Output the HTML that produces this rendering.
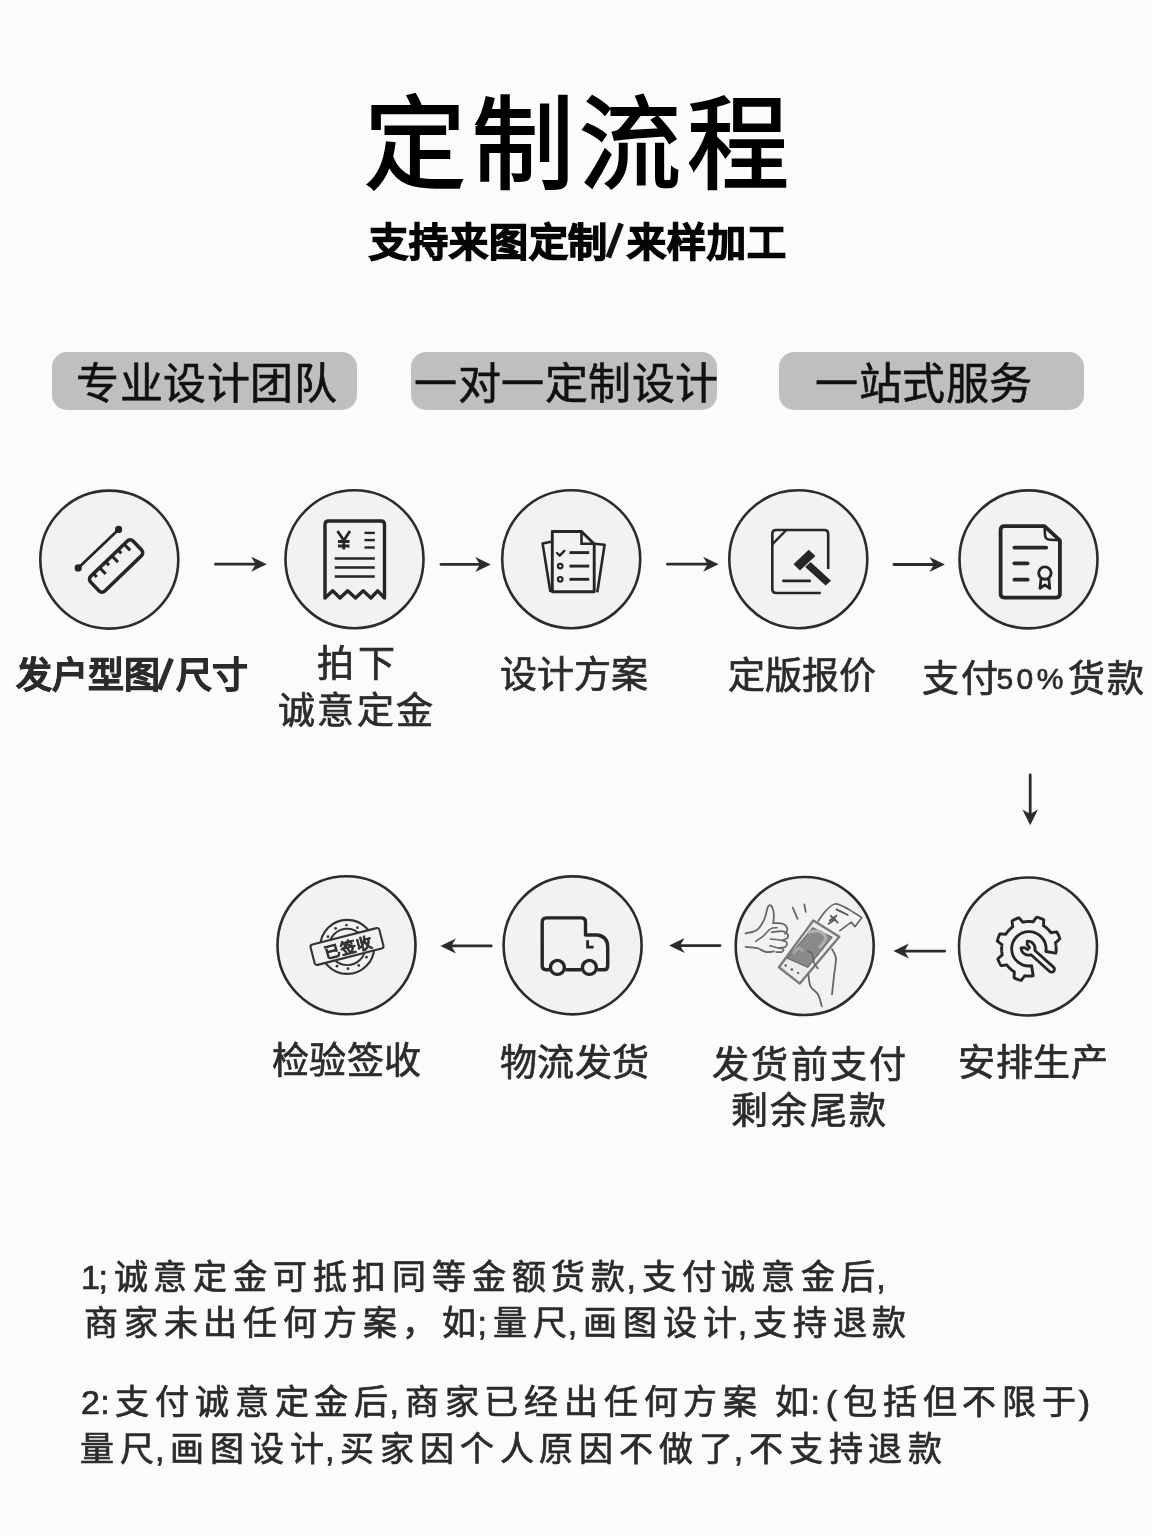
<!DOCTYPE html>
<html lang="zh-CN">
<head>
<meta charset="utf-8">
<style>
html,body{margin:0;padding:0;}
body{width:1152px;height:1536px;position:relative;overflow:hidden;background:#fbfbfb;font-family:"Liberation Sans",sans-serif;color:#2a2a2a;}
.t{position:absolute;white-space:nowrap;line-height:1;will-change:transform;}
#title{left:364px;top:95px;font-size:102px;letter-spacing:5.5px;color:#000;-webkit-text-stroke:2px #000;}
#sub{left:369px;top:223px;font-size:39px;font-weight:bold;color:#050505;letter-spacing:0.9px;-webkit-text-stroke:1.4px #050505;}
.pill{position:absolute;top:352px;height:58px;background:#bfbfbf;border-radius:15px;}
.pt{font-size:43px;color:#111;letter-spacing:0.5px;-webkit-text-stroke:0.6px #111;}
.lb{font-size:37px;letter-spacing:0px;color:#2b2b2b;-webkit-text-stroke:0.7px #2b2b2b;}
.ft{font-size:34px;letter-spacing:5.8px;color:#2b2b2b;-webkit-text-stroke:0.7px #2b2b2b;}
#art{position:absolute;left:0;top:0;}
.p{font-style:normal;margin-left:-4.5px;}
.sl{display:inline-block;width:19px;}
.sl2{display:inline-block;width:15.5px;}
</style>
</head>
<body>
<div class="t" id="title">定制流程</div>
<div class="t" id="sub">支持来图定制<span class="sl"></span>来样加工</div>

<div class="pill" style="left:52px;width:305px"></div>
<div class="pill" style="left:411px;width:306px"></div>
<div class="pill" style="left:779px;width:305px"></div>
<div class="t pt" style="left:76px;top:363px">专业设计团队</div>
<div class="t pt" style="left:414px;top:363px">一对一定制设计</div>
<div class="t pt" style="left:815px;top:363px">一站式服务</div>

<svg width="1152" height="1536" viewBox="0 0 1152 1536" id="art">
<circle cx="109.3" cy="559.6" r="69" fill="#f2f2f4" stroke="#2c2c2c" stroke-width="2.6"/>
<circle cx="354.5" cy="559.2" r="69" fill="#f2f2f4" stroke="#2c2c2c" stroke-width="2.6"/>
<circle cx="571.2" cy="559.2" r="69" fill="#f2f2f4" stroke="#2c2c2c" stroke-width="2.6"/>
<circle cx="798.3" cy="559.2" r="69" fill="#f2f2f4" stroke="#2c2c2c" stroke-width="2.6"/>
<circle cx="1028.5" cy="559.4" r="69" fill="#f2f2f4" stroke="#2c2c2c" stroke-width="2.6"/>
<circle cx="346.5" cy="945.3" r="69" fill="#f2f2f4" stroke="#2c2c2c" stroke-width="2.6"/>
<circle cx="572.6" cy="945.4" r="69" fill="#f2f2f4" stroke="#2c2c2c" stroke-width="2.6"/>
<circle cx="804.7" cy="946.0" r="69" fill="#f2f2f4" stroke="#2c2c2c" stroke-width="2.6"/>
<circle cx="1028.0" cy="946.5" r="69" fill="#f2f2f4" stroke="#2c2c2c" stroke-width="2.6"/>
<line x1="215.5" y1="564.2" x2="258.7" y2="564.2" stroke="#2c2c2c" stroke-width="2.8" stroke-linecap="round"/>
<path d="M266.7,564.2 L251.2,556.7 L255.7,564.2 L251.2,571.7 Z" fill="#2c2c2c"/>
<line x1="441" y1="564.4" x2="482.8" y2="564.4" stroke="#2c2c2c" stroke-width="2.8" stroke-linecap="round"/>
<path d="M490.8,564.4 L475.3,556.9 L479.8,564.4 L475.3,571.9 Z" fill="#2c2c2c"/>
<line x1="667.5" y1="564.2" x2="710.6" y2="564.2" stroke="#2c2c2c" stroke-width="2.8" stroke-linecap="round"/>
<path d="M718.6,564.2 L703.1,556.7 L707.6,564.2 L703.1,571.7 Z" fill="#2c2c2c"/>
<line x1="894" y1="564.5" x2="936.9" y2="564.5" stroke="#2c2c2c" stroke-width="2.8" stroke-linecap="round"/>
<path d="M944.9,564.5 L929.4,557.0 L933.9,564.5 L929.4,572.0 Z" fill="#2c2c2c"/>
<line x1="448.4" y1="945.9" x2="491.2" y2="945.9" stroke="#2c2c2c" stroke-width="2.8" stroke-linecap="round"/>
<path d="M440.4,945.9 L455.9,938.4 L451.4,945.9 L455.9,953.4 Z" fill="#2c2c2c"/>
<line x1="677.1" y1="945.6" x2="720" y2="945.6" stroke="#2c2c2c" stroke-width="2.8" stroke-linecap="round"/>
<path d="M669.1,945.6 L684.6,938.1 L680.1,945.6 L684.6,953.1 Z" fill="#2c2c2c"/>
<line x1="901.4" y1="951.1" x2="944.7" y2="951.1" stroke="#2c2c2c" stroke-width="2.8" stroke-linecap="round"/>
<path d="M893.4,951.1 L908.9,943.6 L904.4,951.1 L908.9,958.6 Z" fill="#2c2c2c"/>
<line x1="1030.2" y1="775" x2="1030.2" y2="817" stroke="#2c2c2c" stroke-width="2.8" stroke-linecap="round"/>
<path d="M1030.2,825.2 L1022.4000000000001,809.5 L1030.2,814 L1038.0,809.5 Z" fill="#2c2c2c"/>
<g transform="translate(116.1,566.0) rotate(-44)"><rect x="-29.5" y="-10.2" width="59" height="20.4" rx="4" fill="none" stroke="#262626" stroke-width="3.5"/><line x1="-21.5" y1="-10" x2="-21.5" y2="-5.5" stroke="#262626" stroke-width="3"/><line x1="-13" y1="-10" x2="-13" y2="-1.5" stroke="#262626" stroke-width="3"/><line x1="-4.5" y1="-10" x2="-4.5" y2="-5.5" stroke="#262626" stroke-width="3"/><line x1="4" y1="-10" x2="4" y2="-1.5" stroke="#262626" stroke-width="3"/><line x1="12.5" y1="-10" x2="12.5" y2="-5.5" stroke="#262626" stroke-width="3"/><line x1="21" y1="-10" x2="21" y2="-1.5" stroke="#262626" stroke-width="3"/></g>
<line x1="78.2" y1="567.9" x2="118.6" y2="529.4" stroke="#262626" stroke-width="2.7"/>
<circle cx="78.2" cy="567.9" r="3.6" fill="#262626"/><circle cx="118.6" cy="529.4" r="3.6" fill="#262626"/>
<path d="M325,598 L325,524.5 Q325,521 328.5,521 L381,521 Q384.5,521 384.5,524.5 L384.5,598 L377.7,590.8 L370.9,598 L363.2,590.8 L355.5,598 L347.7,590.8 L340,598 L332.7,590.8 L325,598 Z" fill="none" stroke="#262626" stroke-width="3.4" stroke-linejoin="round"/>
<path d="M337.5,531 L343.8,540.5 L350,531 M343.8,540.5 L343.8,549.5 M338,541.5 L349.5,541.5 M338,546 L349.5,546" fill="none" stroke="#262626" stroke-width="2.8"/>
<line x1="364.5" y1="532.9" x2="374.8" y2="532.9" stroke="#262626" stroke-width="2.4"/>
<line x1="364.5" y1="540.1" x2="374.8" y2="540.1" stroke="#262626" stroke-width="2.4"/>
<line x1="364.5" y1="547.5" x2="374.8" y2="547.5" stroke="#262626" stroke-width="2.4"/>
<line x1="334.7" y1="558.5" x2="374.8" y2="558.5" stroke="#262626" stroke-width="2.4"/>
<line x1="334.7" y1="567.5" x2="374.8" y2="567.5" stroke="#262626" stroke-width="2.4"/>
<line x1="334.7" y1="576.5" x2="374.8" y2="576.5" stroke="#262626" stroke-width="2.4"/>
<path d="M552.3,531.5 L581.5,531.5 L594.2,544 L594.2,591.8 L552.3,591.8 Z" fill="none" stroke="#262626" stroke-width="2.9" stroke-linejoin="round"/>
<path d="M581.5,531.5 L581.5,543.7 L594.2,543.7" fill="none" stroke="#262626" stroke-width="2.6"/>
<path d="M552.3,541.6 L542.6,543.6 L550.4,592" fill="none" stroke="#262626" stroke-width="2.6" stroke-linejoin="round"/>
<path d="M594.2,543.7 L604.6,544.8 L597.3,592.4" fill="none" stroke="#262626" stroke-width="2.6" stroke-linejoin="round"/>
<path d="M557,553 L559.7,555.6 L564.4,550.9" fill="none" stroke="#262626" stroke-width="2.4" stroke-linecap="round" stroke-linejoin="round"/>
<line x1="569.5" y1="552.6" x2="589.2" y2="552.6" stroke="#262626" stroke-width="2.9"/>
<line x1="569.5" y1="566.1" x2="589.2" y2="566.1" stroke="#262626" stroke-width="2.9"/>
<line x1="569.5" y1="579.3" x2="589.2" y2="579.3" stroke="#262626" stroke-width="2.9"/>
<circle cx="560.2" cy="566.1" r="2.3" fill="none" stroke="#262626" stroke-width="2.2"/>
<circle cx="560.2" cy="579.3" r="2.3" fill="none" stroke="#262626" stroke-width="2.2"/>
<path d="M828.2,569 L828.2,534 Q828.2,530 824.2,530 L776.3,530 Q772.3,530 772.3,534 L772.3,589 Q772.3,593 776.3,593 L820.8,593" fill="none" stroke="#262626" stroke-width="2.6"/>
<line x1="772.5" y1="544.2" x2="786.4" y2="530" stroke="#262626" stroke-width="2.4"/>
<line x1="783.3" y1="580.9" x2="809.8" y2="580.9" stroke="#262626" stroke-width="2.6" stroke-linecap="round"/>
<polygon points="793.5,564.3 808.7,549.8 815.4,556.1 800,570.6" fill="#262626"/>
<polygon points="805.2,566.9 810.6,562.0 831,580.8 825.6,585.6" fill="#262626"/>
<path d="M1044.5,526.2 L1004.4,526.2 Q1000.6,526.2 1000.6,530 L1000.6,593.8 Q1000.6,597.6 1004.4,597.6 L1056.1,597.6 Q1059.9,597.6 1059.9,593.8 L1059.9,540.4 Z" fill="none" stroke="#262626" stroke-width="3.8" stroke-linejoin="round"/>
<path d="M1044.6,527 L1045,535 Q1045.4,539.6 1050,539.8 L1059.5,540.3" fill="none" stroke="#262626" stroke-width="2.6"/>
<line x1="1014.4" y1="547.6" x2="1046.2" y2="547.6" stroke="#262626" stroke-width="3.8" stroke-linecap="round"/>
<line x1="1014.4" y1="563.3" x2="1027.6" y2="563.3" stroke="#262626" stroke-width="3.8" stroke-linecap="round"/>
<line x1="1014.4" y1="579.7" x2="1027.6" y2="579.7" stroke="#262626" stroke-width="3.8" stroke-linecap="round"/>
<circle cx="1044.9" cy="573.1" r="6.2" fill="none" stroke="#262626" stroke-width="2.9"/>
<path d="M1041,578.6 L1040,588.4 L1044.9,584.9 L1049.8,588.4 L1048.8,578.6" fill="none" stroke="#262626" stroke-width="2.8" stroke-linejoin="round"/>
<circle cx="347.2" cy="946.9" r="27" fill="none" stroke="#333" stroke-width="2.1"/>
<circle cx="335.65" cy="928.41" r="1.35" fill="#333"/>
<circle cx="346.44" cy="925.11" r="1.35" fill="#333"/>
<circle cx="357.43" cy="927.65" r="1.35" fill="#333"/>
<circle cx="365.69" cy="935.35" r="1.35" fill="#333"/>
<circle cx="368.99" cy="946.14" r="1.35" fill="#333"/>
<circle cx="366.45" cy="957.13" r="1.35" fill="#333"/>
<circle cx="358.75" cy="965.39" r="1.35" fill="#333"/>
<circle cx="347.96" cy="968.69" r="1.35" fill="#333"/>
<circle cx="336.97" cy="966.15" r="1.35" fill="#333"/>
<circle cx="328.71" cy="958.45" r="1.35" fill="#333"/>
<circle cx="325.41" cy="947.66" r="1.35" fill="#333"/>
<circle cx="327.95" cy="936.67" r="1.35" fill="#333"/>
<circle cx="347.2" cy="946.9" r="18.2" fill="none" stroke="#333" stroke-width="1.9"/>
<g transform="translate(347,946.5) rotate(-14.4)"><rect x="-35.5" y="-10.5" width="71" height="21" rx="2.5" fill="#f2f2f4" stroke="#333" stroke-width="2.1"/><text x="1.8" y="6.8" text-anchor="middle" font-size="15.5" font-weight="bold" fill="#333" stroke="#333" stroke-width="0.5" letter-spacing="0.6">已签收</text></g>
<path d="M549.5,969.7 L546.2,969.7 Q542.2,969.7 542.2,965.7 L542.2,922.4 Q542.2,917.9 546.7,917.9 L581.3,917.9 Q585.5,917.9 585.5,922.1 L585.5,935 L597.5,935 Q607.7,936.5 607.7,947 L607.7,965.9 Q607.7,969.7 603.9,969.7 L597.5,969.7 M565.5,969.7 L581.3,969.7" fill="none" stroke="#262626" stroke-width="3.4" stroke-linejoin="round"/>
<circle cx="557.4" cy="967.4" r="7.0" fill="#f2f2f4" stroke="#262626" stroke-width="3.4"/>
<circle cx="589.4" cy="967.4" r="7.0" fill="#f2f2f4" stroke="#262626" stroke-width="3.4"/>
<path d="M587.6,940.3 L587.6,947.2 L593.6,947.2" fill="none" stroke="#262626" stroke-width="2.8"/>
<path d="M1031.59,965.79 L1033.17,975.76 L1032.94,975.80 L1032.70,975.83 L1032.46,975.87 L1032.23,975.90 L1031.99,975.92 L1031.75,975.95 L1031.52,975.97 L1031.28,976.00 L1031.04,976.02 L1030.80,976.03 L1030.57,976.05 L1030.33,976.06 L1030.09,976.07 L1029.85,976.08 L1029.61,976.09 L1029.38,976.10 L1029.14,976.10 L1028.90,976.10 L1028.66,976.10 L1028.42,976.10 L1028.19,976.09 L1027.95,976.08 L1027.71,976.07 L1027.47,976.06 L1027.23,976.05 L1027.00,976.03 L1026.76,976.02 L1026.52,976.00 L1026.28,975.97 L1026.05,975.95 L1025.81,975.92 L1025.57,975.90 L1025.34,975.87 L1025.10,975.83 L1024.86,975.80 L1024.63,975.76 L1024.31,976.25 L1023.98,976.73 L1023.64,977.21 L1023.29,977.68 L1022.93,978.15 L1022.56,978.61 L1022.19,979.07 L1021.81,979.53 L1021.41,979.98 L1021.01,980.43 L1020.74,980.36 L1020.46,980.29 L1020.19,980.21 L1019.91,980.14 L1019.64,980.06 L1019.37,979.98 L1019.10,979.89 L1018.83,979.80 L1018.56,979.72 L1018.29,979.62 L1018.02,979.53 L1017.75,979.43 L1017.48,979.34 L1017.22,979.23 L1016.95,979.13 L1016.69,979.03 L1016.42,978.92 L1016.16,978.81 L1015.90,978.70 L1015.64,978.58 L1015.38,978.46 L1015.12,978.35 L1014.87,978.22 L1014.61,978.10 L1014.35,977.97 L1014.10,977.85 L1014.09,977.25 L1014.09,976.65 L1014.10,976.05 L1014.12,975.46 L1014.15,974.87 L1014.19,974.28 L1014.24,973.69 L1014.29,973.11 L1014.36,972.53 L1014.43,971.95 L1014.23,971.82 L1014.03,971.70 L1013.83,971.57 L1013.63,971.43 L1013.44,971.30 L1013.24,971.16 L1013.05,971.03 L1012.85,970.89 L1012.66,970.75 L1012.47,970.60 L1012.28,970.46 L1012.09,970.31 L1011.91,970.17 L1011.72,970.02 L1011.54,969.87 L1011.35,969.71 L1011.17,969.56 L1010.99,969.40 L1010.81,969.25 L1010.63,969.09 L1010.46,968.93 L1010.28,968.77 L1010.11,968.60 L1009.94,968.44 L1009.77,968.27 L1009.60,968.10 L1009.43,967.93 L1009.26,967.76 L1009.10,967.59 L1008.93,967.42 L1008.77,967.24 L1008.61,967.07 L1008.45,966.89 L1008.30,966.71 L1008.14,966.53 L1007.99,966.35 L1007.83,966.16 L1007.68,965.98 L1007.53,965.79 L1007.39,965.61 L1007.24,965.42 L1007.10,965.23 L1006.95,965.04 L1006.81,964.85 L1006.24,964.96 L1005.67,965.07 L1005.09,965.16 L1004.51,965.25 L1003.93,965.33 L1003.34,965.40 L1002.75,965.46 L1002.15,965.51 L1001.56,965.56 L1000.96,965.59 L1000.81,965.35 L1000.67,965.10 L1000.53,964.85 L1000.39,964.60 L1000.25,964.36 L1000.12,964.10 L999.98,963.85 L999.85,963.60 L999.73,963.35 L999.60,963.09 L999.48,962.83 L999.35,962.58 L999.24,962.32 L999.12,962.06 L999.00,961.80 L998.89,961.54 L998.78,961.28 L998.67,961.01 L998.57,960.75 L998.47,960.48 L998.36,960.22 L998.27,959.95 L998.17,959.68 L998.08,959.41 L997.98,959.14 L997.90,958.87 L998.31,958.44 L998.74,958.02 L999.17,957.61 L999.60,957.20 L1000.04,956.80 L1000.48,956.41 L1000.93,956.03 L1001.38,955.66 L1001.84,955.30 L1002.30,954.94 L1002.25,954.71 L1002.20,954.48 L1002.15,954.24 L1002.10,954.01 L1002.06,953.78 L1002.01,953.54 L1001.97,953.31 L1001.94,953.07 L1001.90,952.84 L1001.87,952.60 L1001.83,952.36 L1001.80,952.13 L1001.78,951.89 L1001.75,951.65 L1001.73,951.42 L1001.70,951.18 L1001.68,950.94 L1001.67,950.70 L1001.65,950.47 L1001.64,950.23 L1001.63,949.99 L1001.62,949.75 L1001.61,949.51 L1001.60,949.28 L1001.60,949.04 L1001.60,948.80 L1001.60,948.56 L1001.60,948.32 L1001.61,948.09 L1001.62,947.85 L1001.63,947.61 L1001.64,947.37 L1001.65,947.13 L1001.67,946.90 L1001.68,946.66 L1001.70,946.42 L1001.73,946.18 L1001.75,945.95 L1001.78,945.71 L1001.80,945.47 L1001.83,945.24 L1001.87,945.00 L1001.90,944.76 L1001.94,944.53 L1001.45,944.21 L1000.97,943.88 L1000.49,943.54 L1000.02,943.19 L999.55,942.83 L999.09,942.46 L998.63,942.09 L998.17,941.71 L997.72,941.31 L997.27,940.91 L997.34,940.64 L997.41,940.36 L997.49,940.09 L997.56,939.81 L997.64,939.54 L997.72,939.27 L997.81,939.00 L997.90,938.73 L997.98,938.46 L998.08,938.19 L998.17,937.92 L998.27,937.65 L998.36,937.38 L998.47,937.12 L998.57,936.85 L998.67,936.59 L998.78,936.32 L998.89,936.06 L999.00,935.80 L999.12,935.54 L999.24,935.28 L999.35,935.02 L999.48,934.77 L999.60,934.51 L999.73,934.25 L999.85,934.00 L1000.45,933.99 L1001.05,933.99 L1001.65,934.00 L1002.24,934.02 L1002.83,934.05 L1003.42,934.09 L1004.01,934.14 L1004.59,934.19 L1005.17,934.26 L1005.75,934.33 L1005.88,934.13 L1006.00,933.93 L1006.13,933.73 L1006.27,933.53 L1006.40,933.34 L1006.54,933.14 L1006.67,932.95 L1006.81,932.75 L1006.95,932.56 L1007.10,932.37 L1007.24,932.18 L1007.39,931.99 L1007.53,931.81 L1007.68,931.62 L1007.83,931.44 L1007.99,931.25 L1008.14,931.07 L1008.30,930.89 L1008.45,930.71 L1008.61,930.53 L1008.77,930.36 L1008.93,930.18 L1009.10,930.01 L1009.26,929.84 L1009.43,929.67 L1009.60,929.50 L1009.77,929.33 L1009.94,929.16 L1010.11,929.00 L1010.28,928.83 L1010.46,928.67 L1010.63,928.51 L1010.81,928.35 L1010.99,928.20 L1011.17,928.04 L1011.35,927.89 L1011.54,927.73 L1011.72,927.58 L1011.91,927.43 L1012.09,927.29 L1012.28,927.14 L1012.47,927.00 L1012.66,926.85 L1012.85,926.71 L1012.74,926.14 L1012.63,925.57 L1012.54,924.99 L1012.45,924.41 L1012.37,923.83 L1012.30,923.24 L1012.24,922.65 L1012.19,922.05 L1012.14,921.46 L1012.11,920.86 L1012.35,920.71 L1012.60,920.57 L1012.85,920.43 L1013.10,920.29 L1013.34,920.15 L1013.60,920.02 L1013.85,919.88 L1014.10,919.75 L1014.35,919.63 L1014.61,919.50 L1014.87,919.38 L1015.12,919.25 L1015.38,919.14 L1015.64,919.02 L1015.90,918.90 L1016.16,918.79 L1016.42,918.68 L1016.69,918.57 L1016.95,918.47 L1017.22,918.37 L1017.48,918.26 L1017.75,918.17 L1018.02,918.07 L1018.29,917.98 L1018.56,917.88 L1018.83,917.80 L1019.26,918.21 L1019.68,918.64 L1020.09,919.07 L1020.50,919.50 L1020.90,919.94 L1021.29,920.38 L1021.67,920.83 L1022.04,921.28 L1022.40,921.74 L1022.76,922.20 L1022.99,922.15 L1023.22,922.10 L1023.46,922.05 L1023.69,922.00 L1023.92,921.96 L1024.16,921.91 L1024.39,921.87 L1024.63,921.84 L1024.86,921.80 L1025.10,921.77 L1025.34,921.73 L1025.57,921.70 L1025.81,921.68 L1026.05,921.65 L1026.28,921.63 L1026.52,921.60 L1026.76,921.58 L1027.00,921.57 L1027.23,921.55 L1027.47,921.54 L1027.71,921.53 L1027.95,921.52 L1028.19,921.51 L1028.42,921.50 L1028.66,921.50 L1028.90,921.50 L1029.14,921.50 L1029.38,921.50 L1029.61,921.51 L1029.85,921.52 L1030.09,921.53 L1030.33,921.54 L1030.57,921.55 L1030.80,921.57 L1031.04,921.58 L1031.28,921.60 L1031.52,921.63 L1031.75,921.65 L1031.99,921.68 L1032.23,921.70 L1032.46,921.73 L1032.70,921.77 L1032.94,921.80 L1033.17,921.84 L1033.49,921.35 L1033.82,920.87 L1034.16,920.39 L1034.51,919.92 L1034.87,919.45 L1035.24,918.99 L1035.61,918.53 L1035.99,918.07 L1036.39,917.62 L1036.79,917.17 L1037.06,917.24 L1037.34,917.31 L1037.61,917.39 L1037.89,917.46 L1038.16,917.54 L1038.43,917.62 L1038.70,917.71 L1038.97,917.80 L1039.24,917.88 L1039.51,917.98 L1039.78,918.07 L1040.05,918.17 L1040.32,918.26 L1040.58,918.37 L1040.85,918.47 L1041.11,918.57 L1041.38,918.68 L1041.64,918.79 L1041.90,918.90 L1042.16,919.02 L1042.42,919.14 L1042.68,919.25 L1042.93,919.38 L1043.19,919.50 L1043.45,919.63 L1043.70,919.75 L1043.71,920.35 L1043.71,920.95 L1043.70,921.55 L1043.68,922.14 L1043.65,922.73 L1043.61,923.32 L1043.56,923.91 L1043.51,924.49 L1043.44,925.07 L1043.37,925.65 L1043.57,925.78 L1043.77,925.90 L1043.97,926.03 L1044.17,926.17 L1044.36,926.30 L1044.56,926.44 L1044.75,926.57 L1044.95,926.71 L1045.14,926.85 L1045.33,927.00 L1045.52,927.14 L1045.71,927.29 L1045.89,927.43 L1046.08,927.58 L1046.26,927.73 L1046.45,927.89 L1046.63,928.04 L1046.81,928.20 L1046.99,928.35 L1047.17,928.51 L1047.34,928.67 L1047.52,928.83 L1047.69,929.00 L1047.86,929.16 L1048.03,929.33 L1048.20,929.50 L1048.37,929.67 L1048.54,929.84 L1048.70,930.01 L1048.87,930.18 L1049.03,930.36 L1049.19,930.53 L1049.35,930.71 L1049.50,930.89 L1049.66,931.07 L1049.81,931.25 L1049.97,931.44 L1050.12,931.62 L1050.27,931.81 L1050.41,931.99 L1050.56,932.18 L1050.70,932.37 L1050.85,932.56 L1050.99,932.75 L1051.56,932.64 L1052.13,932.53 L1052.71,932.44 L1053.29,932.35 L1053.87,932.27 L1054.46,932.20 L1055.05,932.14 L1055.65,932.09 L1056.24,932.04 L1056.84,932.01 L1056.99,932.25 L1057.13,932.50 L1057.27,932.75 L1057.41,933.00 L1057.55,933.24 L1057.68,933.50 L1057.82,933.75 L1057.95,934.00 L1058.07,934.25 L1058.20,934.51 L1058.32,934.77 L1058.45,935.02 L1058.56,935.28 L1058.68,935.54 L1058.80,935.80 L1058.91,936.06 L1059.02,936.32 L1059.13,936.59 L1059.23,936.85 L1059.33,937.12 L1059.44,937.38 L1059.53,937.65 L1059.63,937.92 L1059.72,938.19 L1059.82,938.46 L1059.90,938.73 L1059.49,939.16 L1059.06,939.58 L1058.63,939.99 L1058.20,940.40 L1057.76,940.80 L1057.32,941.19 L1056.87,941.57 L1056.42,941.94 L1055.96,942.30 L1055.50,942.66 L1055.55,942.89 L1055.60,943.12 L1055.65,943.36 L1055.70,943.59 L1055.74,943.82 L1055.79,944.06 L1055.83,944.29 L1055.86,944.53 L1055.90,944.76 L1055.93,945.00 L1055.97,945.24 L1056.00,945.47 L1056.02,945.71 L1056.05,945.95 L1056.07,946.18 L1056.10,946.42 L1056.12,946.66 L1056.13,946.90 L1056.15,947.13 L1056.16,947.37 L1056.17,947.61 L1056.18,947.85 L1056.19,948.09 L1056.20,948.32 L1056.20,948.56 L1056.20,948.80 L1056.20,949.04 L1056.20,949.28 L1056.19,949.51 L1056.18,949.75 L1056.17,949.99 L1056.16,950.23 L1056.15,950.47 L1056.13,950.70 L1056.12,950.94 L1056.10,951.18 L1056.07,951.42 L1056.05,951.65 L1056.02,951.89 L1056.00,952.13 L1055.97,952.36 L1055.93,952.60 L1055.90,952.84 L1055.86,953.07 L1045.89,951.49 A17.2,17.2 0 1 0 1031.59,965.79 Z" fill="none" stroke="#262626" stroke-width="2.9" stroke-linejoin="round"/>
<g transform="translate(1028.9,948.9) rotate(42)"><path d="M5.5,-2.9 L30.5,-2.9 A2.9,2.9 0 0 1 30.5,2.9 L5.5,2.9 A7.6,7.6 0 0 1 -6.5,4.6 L-4,2 L-0.5,1.5 L-0.5,-1.5 L-4,-2 L-6.5,-4.6 A7.6,7.6 0 0 1 5.5,-2.9 Z" fill="none" stroke="#262626" stroke-width="2.8" stroke-linejoin="round"/></g>
<path d="M813.4,920.4 L839.3,936.8 L799.8,983.6 L778.9,967.2 Z" fill="#ececee" stroke="#7a7a7a" stroke-width="2.4" stroke-linejoin="round"/>
<path d="M812.8,927.7 L832.0,937.3 L807.7,967.2 L787.4,958.2 Z" fill="#8a8a8a" stroke="#6a6a6a" stroke-width="1.2"/>
<path d="M807.7,932.2 C809.6,932.1 816.0,930.2 819.0,931.1 C822.0,932.1 825.8,935.1 825.8,937.9 C825.8,940.7 820.1,946.4 819.0,948.0" fill="none" stroke="#b0b0b0" stroke-width="3"/>
<path d="M793.0,953.7 C794.0,952.8 797.0,948.4 798.7,948.0 C800.4,947.7 802.5,950.9 803.2,951.4" fill="none" stroke="#a8a8a8" stroke-width="3"/>
<g fill="#555"><circle cx="785.7" cy="965.5" r="1.2"/><circle cx="791.9" cy="969.5" r="1.2"/><circle cx="798.1" cy="972.9" r="1.1"/></g>
<path d="M817.9,921.5 C819.2,919.7 823.0,913.7 825.8,910.8 C828.6,907.9 831.6,904.6 834.8,904.0 C838.0,903.5 842.0,906.1 845.0,907.4 C848.0,908.7 850.0,910.2 852.9,911.9 C855.7,913.6 860.4,916.6 861.9,917.6 L855.1,926.6 L851.2,922.1 L839.3,931.1" fill="#f4f4f6" stroke="#666" stroke-width="1.7" stroke-linejoin="round"/>
<path d="M835.9,909.1 L848.4,915.3 M830.3,915.3 L838.2,923.2 M829.2,921.0 L837.1,915.3 M828.0,924.3 L835.9,918.7" fill="none" stroke="#555" stroke-width="1.8"/>
<path d="M792.8,907.6 L797.6,918.9 M804.3,904.3 L805.7,911.9" fill="none" stroke="#666" stroke-width="1.8" stroke-linecap="round"/>
<path d="M745.6,933.4 C747.5,932.8 753.8,932.3 756.9,930.0 C760.0,927.6 762.5,923.0 764.3,919.3 C766.1,915.5 766.7,909.8 767.7,907.4 C768.6,905.1 769.1,905.0 769.9,905.2 C770.8,905.3 772.1,906.9 772.7,908.5 C773.4,910.2 773.8,912.9 773.9,915.3 C774.0,917.8 773.4,921.9 773.3,923.2" fill="none" stroke="#666" stroke-width="1.8" stroke-linecap="round"/>
<path d="M773.3,923.2 C774.9,923.3 780.5,922.8 782.9,923.8 C785.2,924.7 787.0,927.2 787.4,928.9 C787.8,930.6 785.5,933.1 785.1,933.9 M771.6,932.2 C773.3,932.1 779.1,930.8 781.8,931.1 C784.4,931.4 786.5,932.8 787.4,933.9 C788.3,935.1 788.2,936.9 787.4,937.9 C786.7,938.9 783.6,939.8 782.9,940.1 M770.5,939.0 C772.2,939.2 777.9,939.6 780.6,940.1 C783.4,940.7 786.1,941.3 786.8,942.4 C787.6,943.5 786.6,946.0 785.1,946.9 C783.7,947.9 779.5,947.9 778.4,948.0 M769.9,945.8 C771.3,946.2 776.1,947.5 778.4,948.0 C780.6,948.6 782.9,948.5 783.5,949.2 C784.0,949.8 783.0,951.5 781.8,952.0 C780.5,952.5 777.1,952.0 776.1,952.0" fill="none" stroke="#666" stroke-width="1.7" stroke-linecap="round"/>
<path d="M755.8,941.3 C757.1,940.3 761.3,937.7 763.7,935.6 C766.1,933.6 768.2,930.2 770.5,928.9 C772.7,927.5 776.1,927.9 777.2,927.7" fill="none" stroke="#666" stroke-width="1.6" stroke-linecap="round"/>
<path d="M745.6,946.9 C747.5,947.1 753.5,947.2 756.9,948.0 C760.3,948.9 763.1,951.4 766.0,952.0 C768.8,952.6 772.5,951.5 773.9,951.4" fill="none" stroke="#666" stroke-width="1.8" stroke-linecap="round"/>
<path d="M807.7,951.4 C808.5,951.8 811.2,951.8 812.2,953.7 C813.3,955.6 813.0,960.3 813.9,962.7 C814.9,965.2 817.2,967.4 817.9,968.4" fill="none" stroke="#666" stroke-width="1.7" stroke-linecap="round"/>
<path d="M808.3,974.0 C808.7,976.1 808.9,983.0 810.5,986.4 C812.1,989.8 816.0,991.0 817.9,994.3 C819.8,997.6 821.2,1004.2 821.8,1006.2" fill="none" stroke="#666" stroke-width="1.8" stroke-linecap="round"/>
<path d="M832.0,949.2 C832.6,950.7 835.6,954.1 835.9,958.2 C836.3,962.3 834.9,968.0 834.2,974.0 C833.6,980.0 832.4,990.9 832.0,994.3" fill="none" stroke="#666" stroke-width="1.8" stroke-linecap="round"/>
<line x1="608.3" y1="257.5" x2="621.2" y2="223.5" stroke="#111" stroke-width="5.6"/>
<line x1="159.2" y1="689.5" x2="171.4" y2="658.8" stroke="#2b2b2b" stroke-width="5.2"/>
</svg>

<div class="t lb" style="left:16px;top:658px;font-size:36px;font-weight:bold;letter-spacing:0px">发户型图<span class="sl2"></span>尺寸</div>
<div class="t lb" style="left:317px;top:646px;letter-spacing:4px">拍下</div>
<div class="t lb" style="left:278px;top:693px;letter-spacing:2.3px">诚意定金</div>
<div class="t lb" style="left:500px;top:657px;letter-spacing:0px">设计方案</div>
<div class="t lb" style="left:728px;top:658px;letter-spacing:0px">定版报价</div>
<div class="t lb" style="left:922px;top:661px;letter-spacing:1.5px">支付<span style="font-size:30px;letter-spacing:3.4px;margin-left:-2.5px;margin-right:1.5px;position:relative;top:-3px">50%</span>货款</div>

<div class="t lb" style="left:272px;top:1043px;letter-spacing:0.4px">检验签收</div>
<div class="t lb" style="left:500px;top:1045px;letter-spacing:0.3px">物流发货</div>
<div class="t lb" style="left:712px;top:1047px;letter-spacing:2.3px">发货前支付</div>
<div class="t lb" style="left:731px;top:1093px;letter-spacing:2.4px">剩余尾款</div>
<div class="t lb" style="left:958px;top:1045px;letter-spacing:0.7px">安排生产</div>

<div class="t ft" style="left:81px;top:1260px"><span style="letter-spacing:3px">1</span><i class="p">;</i>诚意定金可抵扣同等金额货款<i class="p">,</i>支付诚意金后<i class="p">,</i></div>
<div class="t ft" style="left:84px;top:1306px">商家未出任何方案，如<i class="p">;</i>量尺<i class="p">,</i>画图设计<i class="p">,</i>支持退款</div>
<div class="t ft" style="left:81px;top:1385px"><span style="letter-spacing:4.8px">2</span><i class="p">:</i>支付诚意定金后<i class="p">,</i>商家已经出任何方案<span style="letter-spacing:2.8px"> </span>如<i class="p">:</i>(包括但不限于<i style="font-style:normal;margin-left:-3px">)</i></div>
<div class="t ft" style="left:80px;top:1432px">量尺<i class="p">,</i>画图设计<i class="p">,</i>买家因个人原因不做了<i class="p">,</i>不支持退款</div>
</body>
</html>
